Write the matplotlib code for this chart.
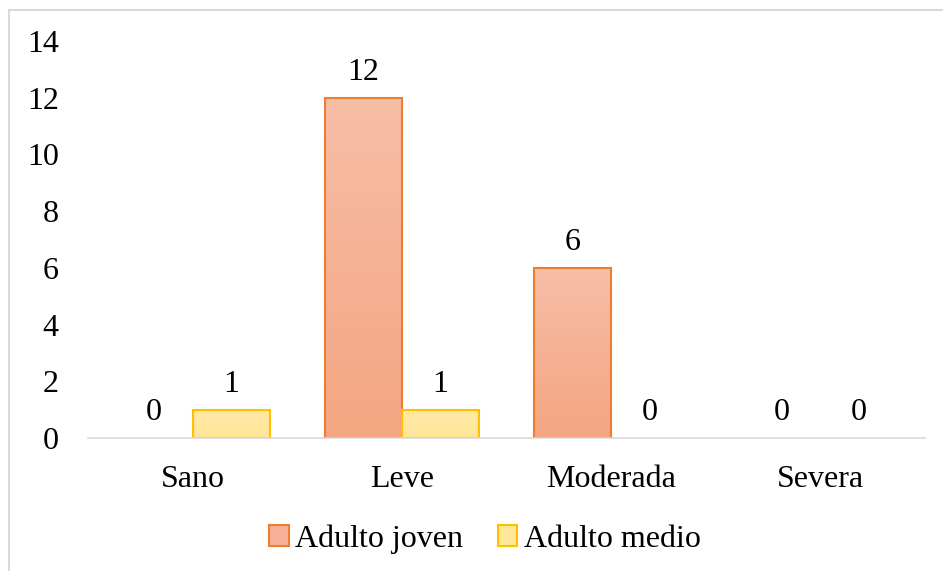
import numpy as np
import matplotlib.pyplot as plt
from matplotlib.patches import Rectangle

categories = ["Sano", "Leve", "Moderada", "Severa"]
adulto_joven = [0, 12, 6, 0]
adulto_medio = [1, 1, 0, 0]
series_names = ["Adulto joven", "Adulto medio"]
y_ticks = [0, 2, 4, 6, 8, 10, 12, 14]

plt.rcParams['font.family'] = ['Liberation Serif', 'DejaVu Serif']
FS = 23

fig = plt.figure(figsize=(9.43, 5.71), dpi=100)
ax = fig.add_axes([88/943, 133/571, 837/943, (438-41)/571])

x = np.arange(len(categories))
w = 0.368

def gradient_bars(xs, vals, top_col, bot_col, edge):
    c0 = np.array(plt.matplotlib.colors.to_rgb(bot_col))
    c1 = np.array(plt.matplotlib.colors.to_rgb(top_col))
    grad = np.linspace(0, 1, 256).reshape(-1, 1)
    for xi, v in zip(xs, vals):
        if v > 0:
            b = ax.bar(xi, v, width=w, color='none', edgecolor=edge,
                       linewidth=1.5, zorder=3)[0]
            img = c0[None, None, :] + (c1 - c0)[None, None, :] * grad[:, :, None]
            x0 = b.get_x()
            im = ax.imshow(img, extent=[x0, x0 + b.get_width(), 0, v], origin='lower',
                           aspect='auto', zorder=2, interpolation='bilinear')
            im.set_clip_path(b)
        ax.annotate(f"{v}", (xi, v), xytext=(0, 8), textcoords='offset points',
                    ha='center', va='bottom', fontsize=FS, color='#000000')

gradient_bars(x - w/2, adulto_joven, '#F7BEA6', '#F4A581', '#ED7D31')
gradient_bars(x + w/2, adulto_medio, '#FFE9A8', '#FFE699', '#FFC000')

ax.set_xlim(-0.5, len(categories) - 0.5)
ax.set_ylim(0, 14)
ax.set_yticks(y_ticks)
ax.set_yticklabels([str(t) for t in y_ticks], fontsize=FS)
ax.set_xticks(x)
ax.set_xticklabels(categories, fontsize=FS)
ax.tick_params(axis='both', length=0)
ax.tick_params(axis='y', pad=21)
ax.tick_params(axis='x', pad=19.5)
for s in ['top', 'right', 'left']:
    ax.spines[s].set_visible(False)
ax.spines['bottom'].set_color('#D9D9D9')
ax.spines['bottom'].set_linewidth(1.2)
ax.spines['bottom'].set_zorder(4)

handles = [
    Rectangle((0, 0), 1, 1, facecolor='#F5B095', edgecolor='#ED7D31', linewidth=1.5),
    Rectangle((0, 0), 1, 1, facecolor='#FFE699', edgecolor='#FFC000', linewidth=1.5),
]
fig.legend(handles, series_names, loc='center', bbox_to_anchor=(485/943, 1 - 539/571),
           ncol=2, frameon=False, fontsize=FS, handlelength=0.6, handleheight=0.6,
           handletextpad=0.2, columnspacing=1.1)

# light outer frame of the chart area
fig.add_artist(Rectangle((9/943, -0.01), 1.02, 1 - 10/571 + 0.01, transform=fig.transFigure,
                         fill=False, edgecolor='#D9D9D9', linewidth=1.5))

fig.savefig('out.png', dpi=100)
